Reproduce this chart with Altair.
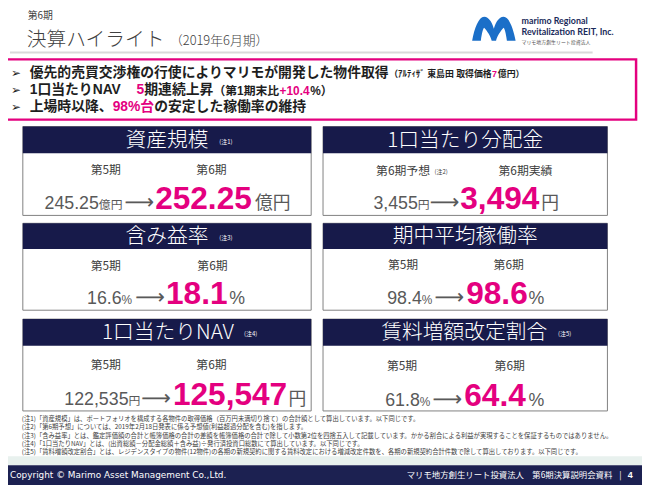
import altair as alt
import pandas as pd

# ---------------- content ----------------
card_titles = ["資産規模", "1口当たり分配金", "含み益率", "期中平均稼働率", "1口当たりNAV", "賃料増額改定割合"]
card_notes = ["(注1)", "", "(注3)", "", "(注4)", "(注5)"]
prev_labels = ["第5期", "第6期予想", "第5期", "第5期", "第5期", "第5期"]
curr_labels = ["第6期", "第6期実績", "第6期", "第6期", "第6期", "第6期"]
prev_values = ["245.25", "3,455", "16.6", "98.4", "122,535", "61.8"]
curr_values = ["252.25", "3,494", "18.1", "98.6", "125,547", "64.4"]
units = ["億円", "円", "%", "%", "円", "%"]

footnotes = [
    "(注1)「資産規模」は、ポートフォリオを構成する各物件の取得価格（百万円未満切り捨て）の合計額として算出しています。以下同じです。",
    "(注2)「第6期予想」については、2019年2月18日発表に係る予想値(利益超過分配を含む)を指します。",
    "(注3)「含み益率」とは、鑑定評価額の合計と帳簿価格の合計の差額を帳簿価格の合計で除して小数第2位を四捨五入して記載しています。かかる割合による利益が実現することを保証するものではありません。",
    "(注4)「1口当たりNAV」とは、(出資総額－分配金総額＋含み益)÷発行済投資口総数にて算出しています。以下同じです。",
    "(注5)「賃料増額改定割合」とは、レジデンスタイプの物件(12物件)の各期の新規契約に関する賃料改定における増減改定件数を、各期の新規契約合計件数で除して算出しております。以下同じです。",
]

# ---------------- layout ----------------
PINK = "#E4007F"
NAVY = "#171A4A"
GRAY = "#595959"
DARK = "#1E1E1E"
JP = "'Noto Sans CJK JP', sans-serif"
MIX = "'Liberation Sans', 'Noto Sans CJK JP', sans-serif"

card_x0 = [23, 327, 23, 327, 23, 327]
card_x1 = [315, 615, 315, 615, 315, 615]
card_top = [125, 125, 223, 223, 320, 320]
card_hb = [152, 152, 249, 249, 347, 347]
card_bot = [215, 215, 311, 311, 413, 413]
title_cx = [169, 471, 169, 471, 170, 470]
note_x = [222, 0, 222, 0, 247, 565]
lab_prev_cx = [107, 408, 107, 408, 107, 407]
lab_curr_cx = [214, 532, 215, 515, 214, 516]
lab_y = [169, 170, 266, 265, 367, 368]
pv_x = [45, 378, 88, 392, 65, 390]
pu_x = [100, 423, 123, 427, 130, 425]
ar_cx = [141, 450, 152, 455, 158, 453]
cv_x = [157, 466, 168, 472, 175, 470]
cu_x = [258, 548, 232, 535, 292, 535]
val_y = [209, 209, 305, 305, 407, 408]

xs = alt.Scale(domain=[8, 650], nice=False, zero=False)
ys = alt.Scale(domain=[8, 488], nice=False, zero=False, reverse=True)

# ---------------- rectangles ----------------
rects = []
def R(x, x2, y, y2, fill, stroke="transparent", sw=0):
    rects.append(dict(x=x, x2=x2, y=y, y2=y2, f=fill, st=stroke, sw=sw))

R(8, 650, 8, 488, "#FFFFFF")
R(10, 600, 49, 51, "#D9D9D9")
R(6, 644, 57, 118, "#FFFFFF", PINK, 2.5)
for i in range(6):
    R(card_x0[i], card_x1[i], card_top[i], card_bot[i], "#FFFFFF", "#808080", 1)
    R(card_x0[i], card_x1[i], card_top[i], card_hb[i], NAVY)
R(8, 650, 459, 468, "#E8F1EE")
R(8, 650, 468, 488, "#1C2151")

rect_layer = alt.Chart(pd.DataFrame(rects)).mark_rect().encode(
    x=alt.X("x:Q", scale=xs, axis=None),
    x2="x2:Q",
    y=alt.Y("y:Q", scale=ys, axis=None),
    y2="y2:Q",
    fill=alt.Fill("f:N", scale=None),
    stroke=alt.Stroke("st:N", scale=None),
    strokeWidth=alt.StrokeWidth("sw:Q", scale=None),
)

# ---------------- texts ----------------
groups = {}
def T(x, y, t, c, s, font=MIX, weight="normal", align="left", baseline="middle"):
    groups.setdefault((font, weight, align, baseline), []).append(dict(x=x, y=y, t=t, c=c, s=s))

# header
T(28, 13, "第6期", "#404040", 10, font=JP)
T(27, 37, "決算ハイライト", "#404040", 20, font=JP, weight=300)
T(172, 38.5, "（2019年6月期）", "#404040", 13, font=JP, weight=300)
T(528, 18, "marimo Regional", "#1A2A5A", 9, font="Lato", weight="bold")
T(528, 29, "Revitalization REIT, Inc.", "#1A2A5A", 9, font="Lato", weight="bold")
T(528, 39, "マリモ地方創生リート投資法人", "#555555", 5, font=JP)

# highlight bullets
for yy in [71, 88, 105]:
    T(11, yy, "➢", DARK, 12, font="'DejaVu Sans'")
T(30, 71, "優先的売買交渉権の行使によりマリモが開発した物件取得", DARK, 14, weight="bold")
T(394, 72, "（ｱﾙﾃｨｻﾞ 東島田 取得価格", DARK, 9, weight="bold")
T(498, 72, "7", PINK, 9, weight="bold")
T(504, 72, "億円）", DARK, 9, weight="bold")
T(30, 88, "1口当たりNAV", DARK, 14, weight="bold")
T(138, 88, "5", PINK, 14, weight="bold")
T(146, 88, "期連続上昇", DARK, 14, weight="bold")
T(216, 89, "（第1期末比", DARK, 12, weight="bold")
T(283, 89, "+10.4", PINK, 12, weight="bold")
T(314, 89, "%）", DARK, 12, weight="bold")
T(30, 105, "上場時以降、", DARK, 14, weight="bold")
T(114, 105, "98%台", PINK, 14, weight="bold")
T(156, 105, "の安定した稼働率の維持", DARK, 14, weight="bold")

# cards
for i in range(6):
    hc = (card_top[i] + card_hb[i]) / 2
    T(title_cx[i], hc + 1, card_titles[i], "#FFFFFF", 21, font=JP, weight=300, align="center")
    if card_notes[i]:
        T(note_x[i], hc + 2, card_notes[i], "#FFFFFF", 6, font=JP)
    T(lab_prev_cx[i], lab_y[i], prev_labels[i], "#404040", 12, font=JP, align="center")
    T(lab_curr_cx[i], lab_y[i], curr_labels[i], "#404040", 12, font=JP, align="center")
    T(pv_x[i], val_y[i], prev_values[i], GRAY, 18, baseline="alphabetic")
    T(pu_x[i], val_y[i], units[i], GRAY, 12, baseline="alphabetic")
    T(ar_cx[i], val_y[i], "⟶", GRAY, 21, font="'DejaVu Sans'", align="center", baseline="alphabetic")
    T(cv_x[i], val_y[i], curr_values[i], PINK, 32, weight="bold", baseline="alphabetic")
    T(cu_x[i], val_y[i], units[i], GRAY, 18, baseline="alphabetic")
T(440, 171, "(注2)", "#404040", 6, font=JP)

# footnotes
for k, fn in enumerate(footnotes):
    T(22, 421 + k * 8.5, fn, "#404040", 6.4, font=JP)

# footer
T(10, 478, "Copyright © Marimo Asset Management Co.,Ltd.", "#FFFFFF", 9, font="'DejaVu Sans'")
T(620, 478, "マリモ地方創生リート投資法人　第6期決算説明会資料", "#FFFFFF", 8.5, font=JP, align="right")
T(628, 478, "|", "#FFFFFF", 8.5, font=JP, align="center")
T(638, 478, "4", "#FFFFFF", 9, font=MIX, weight="bold", align="center")

text_layers = []
for (font, weight, align, baseline), rows in groups.items():
    text_layers.append(
        alt.Chart(pd.DataFrame(rows)).mark_text(
            font=font, fontWeight=weight, align=align, baseline=baseline
        ).encode(
            x=alt.X("x:Q", scale=xs, axis=None),
            y=alt.Y("y:Q", scale=ys, axis=None),
            text="t:N",
            color=alt.Color("c:N", scale=None),
            size=alt.Size("s:Q", scale=None),
        )
    )

# logo
M_PATH = ("M -1 0.55 C -0.9 0 -0.7 -0.55 -0.45 -0.55 C -0.2 -0.55 -0.05 -0.2 0 0 "
          "C 0.05 -0.2 0.2 -0.55 0.45 -0.55 C 0.7 -0.55 0.9 0 1 0.55 L 0.6 0.55 "
          "C 0.55 0.2 0.5 0 0.45 -0.05 C 0.3 0.1 0.15 0.35 0.1 0.55 L -0.1 0.55 "
          "C -0.15 0.35 -0.3 0.1 -0.45 -0.05 C -0.5 0 -0.55 0.2 -0.6 0.55 Z")
logo = alt.Chart(pd.DataFrame([dict(x=500, y=26)])).mark_point(
    shape=M_PATH, filled=True, color="#1B6FC8", opacity=1, size=1936
).encode(
    x=alt.X("x:Q", scale=xs, axis=None),
    y=alt.Y("y:Q", scale=ys, axis=None),
)

chart = alt.layer(rect_layer, logo, *text_layers).properties(
    width=642, height=480, padding=0, autosize="none", background="#FFFFFF"
).configure_view(stroke=None)

chart.save("out.html", embed_options={"renderer": "svg", "actions": False})
